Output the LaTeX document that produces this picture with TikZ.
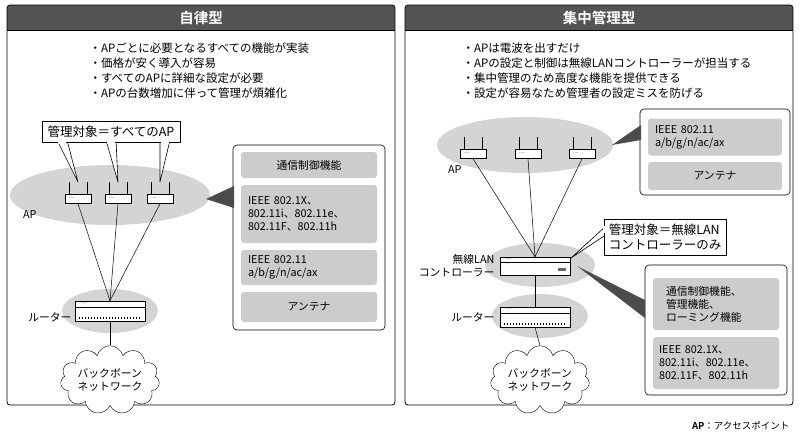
\documentclass[tikz,border=0pt]{standalone}
\usepackage{fontspec}
\setmainfont{Noto Sans CJK JP}[BoldFont={Noto Sans CJK JP Bold}]
\usetikzlibrary{shapes.symbols,positioning}
\definecolor{hdgray}{gray}{0.33}
\definecolor{fngray}{gray}{0.8}
\definecolor{elgray}{gray}{0.83}
\begin{document}
\begin{tikzpicture}[x=1pt,y=-1pt,font=\fontsize{10.8}{13}\selectfont,
  panel/.style={draw,line width=0.8pt,rounded corners=3pt},
  infobox/.style={draw,rounded corners=4pt,fill=white,line width=0.6pt},
  func/.style={fill=fngray,rounded corners=3pt,align=left,inner sep=0pt},
  zone/.style={fill=elgray,draw=none},
  dev/.style={draw,fill=white,line width=0.5pt},
  callout/.style={draw,fill=white,line width=0.6pt,font=\fontsize{12.5}{15}\selectfont,align=left},
  bbcloud/.style={cloud,cloud puffs=11,draw,fill=white,aspect=1.8,align=left,inner sep=0pt},
  bullets/.style={align=left,anchor=north west,font=\fontsize{11.5}{15}\selectfont},
  wire/.style={line width=0.5pt}]
\useasboundingbox (0,0) rectangle (800,437);
% panels
\foreach \x/\title in {7/自律型,405/集中管理型}
{
  \begin{scope}
    \clip[rounded corners=3pt] (\x,5) rectangle (\x+388,405);
    \fill[hdgray] (\x,5) rectangle (\x+388,30);
  \end{scope}
  \draw[panel] (\x,5) rectangle (\x+388,405);
  \draw (\x,30) -- (\x+388,30);
  \node[text=white,font=\fontsize{14.5}{16}\selectfont\bfseries] at (\x+194,17.5) {\title};
}
% ---------- left: autonomous ----------
\node[bullets] (lnotes) at (86,39) {・APごとに必要となるすべての機能が実装\\・価格が安く導入が容易\\・すべてのAPに詳細な設定が必要\\・APの台数増加に伴って管理が煩雑化};
\fill[zone] (110,195) ellipse (100 and 30);
\fill[zone] (110,311) ellipse (48 and 22);
\foreach \i/\x in {1/78,2/118,3/160}
{
  \draw[line width=0.6pt] (\x-9,195) -- (\x-9,182) (\x+9,195) -- (\x+9,182);
  \node[dev,minimum width=26pt,minimum height=9pt,inner sep=0pt] (lap\i) at (\x,199) {};
  \node[font=\tiny,inner sep=0pt] at (\x-6,198) {....};
}
\node[dev,minimum width=70pt,minimum height=20pt,inner sep=0pt] (lrouter) at (110,311) {};
\draw (75,307) -- (145,307);
\foreach \k in {0,...,20} \draw[line width=0.3pt] (79+\k*3,317) -- (79+\k*3,319);
\node[font=\tiny,inner sep=0pt] at (84,303.5) {....};
\node[bbcloud] (lcloud) at (110,380) {バックボーン\\ネットワーク};
\foreach \i in {1,2,3} \draw[wire] (lap\i.south) -- (lrouter.north);
\draw[wire] (lrouter.south) -- (lcloud.north);
\node[anchor=east] (laplbl) at (40,215) {AP};
\node[anchor=east] (lrtlbl) at (75,317) {ルーター};
% callout
\foreach \x/\t in {62/78,111/118,165/160}
  \draw[fill=white,line width=0.6pt,line join=round] (\x-5,140) -- (\t,182) -- (\x+5,140);
\node[callout,minimum width=138pt,minimum height=21pt] (lcall) at (111,132) {管理対象＝すべてのAP};
\foreach \x in {62,111,165}
  \fill[white] (\x-4.3,141) rectangle (\x+4.3,144);
% info box
\node[infobox,minimum width=152pt,minimum height=185pt] (linfo) at (309,237.5) {};
\fill[black!70] (206,199) -- (234,186) -- (234,208) -- cycle;
\node[func,minimum width=136pt,minimum height=26pt,align=center] (lf1) at (309,165) {通信制御機能};
\node[func,minimum width=136pt,minimum height=58pt,text width=122pt] (lf2) at (309,214) {IEEE 802.1X、\\802.11i、802.11e、\\802.11F、802.11h};
\node[func,minimum width=136pt,minimum height=35pt,text width=122pt] (lf3) at (309,267.5) {IEEE 802.11\\a/b/g/n/ac/ax};
\node[func,minimum width=136pt,minimum height=30pt,align=center] (lf4) at (309,307) {アンテナ};
% ---------- right: centralized ----------
\node[bullets] (rnotes) at (459,39) {・APは電波を出すだけ\\・APの設定と制御は無線LANコントローラーが担当する\\・集中管理のため高度な機能を提供できる\\・設定が容易なため管理者の設定ミスを防げる};
\fill[zone] (525,145) ellipse (88 and 28);
\fill[zone] (540,265) ellipse (55 and 22);
\fill[zone] (540,316) ellipse (48 and 22);
\foreach \i/\x in {1/473,2/528,3/582}
{
  \draw[line width=0.6pt] (\x-9,150) -- (\x-9,137) (\x+9,150) -- (\x+9,137);
  \node[dev,minimum width=26pt,minimum height=9pt,inner sep=0pt] (rap\i) at (\x,154) {};
  \node[font=\tiny,inner sep=0pt] at (\x-6,153) {....};
}
\node[anchor=east] (raplbl) at (465,170) {AP};
\node[dev,minimum width=70pt,minimum height=18pt,inner sep=0pt] (rctl) at (535,266) {};
\draw (500,262) -- (570,262);
\fill[black!60] (558,268) rectangle (566,271);
\node[font=\tiny,inner sep=0pt] at (509,259) {....};
\node[anchor=east,align=right] (rctllbl) at (498,266) {無線LAN\\コントローラー};
\node[dev,minimum width=70pt,minimum height=20pt,inner sep=0pt] (rrouter) at (535,317) {};
\draw (500,313) -- (570,313);
\foreach \k in {0,...,20} \draw[line width=0.3pt] (504+\k*3,323) -- (504+\k*3,325);
\node[font=\tiny,inner sep=0pt] at (509,309.5) {....};
\node[anchor=east] (rrtlbl) at (498,317) {ルーター};
\node[bbcloud] (rcloud) at (540,380) {バックボーン\\ネットワーク};
\foreach \i in {1,2,3} \draw[wire] (rap\i.south) -- (rctl.north);
\draw[wire] (rctl.south) -- (rrouter.north);
\draw[wire] (rrouter.south) -- (rcloud.north);
% callout
\draw[fill=white,line width=0.6pt,line join=round] (607,225) -- (571,258) -- (607,234);
\node[callout,minimum width=122pt,minimum height=36pt] (rcall) at (665,237) {管理対象＝無線LAN\\コントローラーのみ};
\fill[white] (603,226) rectangle (605.5,233.3);
% info boxes
\node[infobox,minimum width=150pt,minimum height=86pt] (rinfo1) at (715,152) {};
\fill[black!70] (612,145) -- (641,125) -- (641,140) -- cycle;
\node[func,minimum width=134pt,minimum height=37pt,text width=120pt] (rf1) at (715,137) {IEEE 802.11\\a/b/g/n/ac/ax};
\node[func,minimum width=134pt,minimum height=28pt,align=center] (rf2) at (715,176) {アンテナ};
\node[infobox,minimum width=142pt,minimum height=130pt] (rinfo2) at (716,330) {};
\fill[black!70] (577,266) -- (645,300) -- (645,318) -- cycle;
\node[func,minimum width=126pt,minimum height=52pt,text width=100pt] (rf3) at (716,304) {通信制御機能、\\管理機能、\\ローミング機能};
\node[func,minimum width=126pt,minimum height=52pt,text width=114pt] (rf4) at (716,363) {IEEE 802.1X、\\802.11i、802.11e、\\802.11F、802.11h};
% footnote
\node[anchor=east,font=\fontsize{9.5}{11}\selectfont] (foot) at (793,426) {\textbf{AP}：アクセスポイント};
\end{tikzpicture}
\end{document}
